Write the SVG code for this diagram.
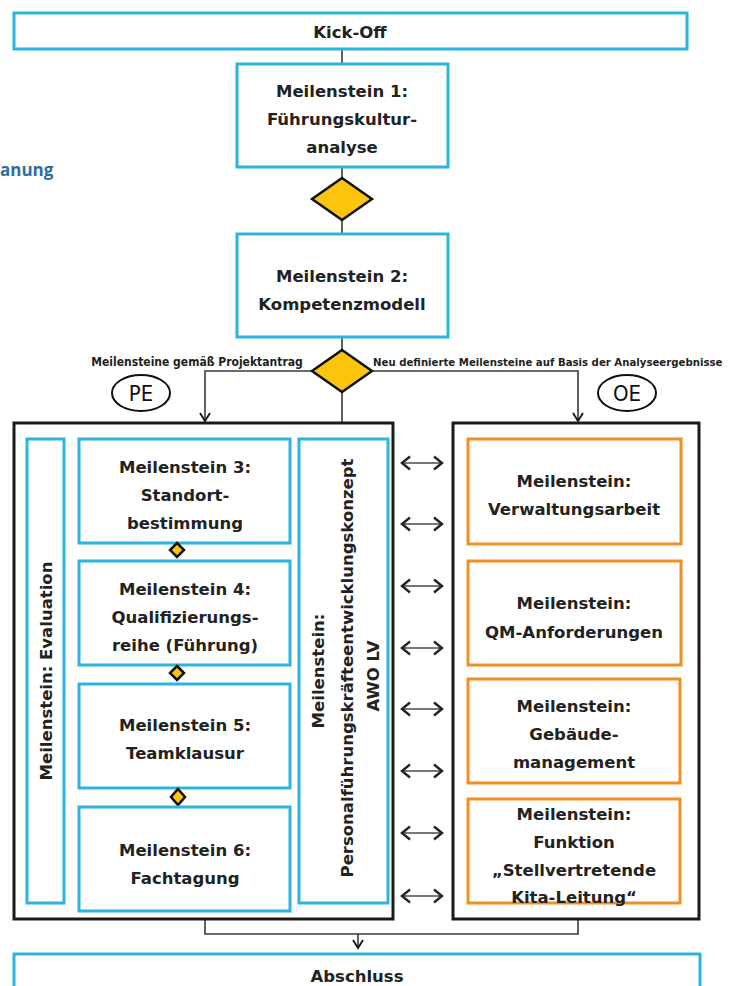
<svg xmlns="http://www.w3.org/2000/svg" width="732" height="986" viewBox="0 0 732 986">
  <defs>
    <style>
      .blue { fill: #ffffff; stroke: #2cb4df; stroke-width: 3; }
      .orange { fill: #ffffff; stroke: #f28f22; stroke-width: 3; }
      .frame { fill: #ffffff; stroke: #1a1a1a; stroke-width: 3; }
      .dia { fill: #fcc40c; stroke: #111111; stroke-width: 2.5; stroke-linejoin: miter; }
      .wire { fill: none; stroke: #3a3a3a; stroke-width: 1.6; }
      .t { font-family: "DejaVu Sans", "Liberation Sans", sans-serif; font-weight: bold; font-size: 16.5px; fill: #222222; text-anchor: middle; }
      .lbl { font-family: "Liberation Sans Narrow", "DejaVu Sans Condensed", sans-serif; font-weight: bold; font-size: 12px; fill: #1e1e1e; text-anchor: middle; }
      .lbl-right { font-size: 11.3px; text-anchor: start; }
      .oval { fill: #ffffff; stroke: #111111; stroke-width: 2; }
      .ovt { font-family: "DejaVu Sans Condensed", sans-serif; font-size: 22px; fill: #111111; text-anchor: middle; }
      .dbl { fill: none; stroke: #222222; stroke-width: 2.4; }
      .shaft { stroke: #777777; stroke-width: 1.8; }
    </style>
    <marker id="head" markerWidth="12" markerHeight="12" refX="10" refY="6" orient="auto" markerUnits="userSpaceOnUse">
      <path d="M2,1 L10,6 L2,11" fill="none" stroke="#111111" stroke-width="1.8"/>
    </marker>
    <g id="twoway">
      <line class="shaft" x1="402" y1="0" x2="442" y2="0"/>
      <polyline class="dbl" points="410,-6.5 402,0 410,6.5"/>
      <polyline class="dbl" points="434,-6.5 442,0 434,6.5"/>
    </g>
  </defs>

  <!-- heading fragment at the left edge -->
  <text x="0" y="176" font-family="Open Sans, sans-serif" font-weight="bold" font-size="17" fill="#2f6ca3">anung</text>

  <!-- connectors -->
  <g id="connectors">
    <line class="wire" x1="342" y1="49" x2="342" y2="64"/>
    <line class="wire" x1="342" y1="167" x2="342" y2="234"/>
    <line class="wire" x1="342" y1="337" x2="342" y2="423"/>
    <polyline class="wire" points="312,371 205,371 205,421" marker-end="url(#head)"/>
    <polyline class="wire" points="372,371 578,371 578,421" marker-end="url(#head)"/>
    <polyline class="wire" points="205,919 205,934 578,934 578,919"/>
    <line class="wire" x1="358" y1="934" x2="358" y2="948" marker-end="url(#head)"/>
    <text class="lbl" x="197" y="366">Meilensteine gemäß Projektantrag</text>
    <text class="lbl lbl-right" x="373" y="366">Neu definierte Meilensteine auf Basis der Analyseergebnisse</text>
    <!-- two-way links between the PE and OE blocks -->
    <g id="links">
      <use href="#twoway" y="463"/>
      <use href="#twoway" y="524"/>
      <use href="#twoway" y="586"/>
      <use href="#twoway" y="648"/>
      <use href="#twoway" y="709"/>
      <use href="#twoway" y="771"/>
      <use href="#twoway" y="833"/>
      <use href="#twoway" y="896"/>
    </g>
  </g>

  <g id="kickoff">
    <rect class="blue" x="14" y="13" width="673" height="36"/>
    <text class="t" x="350" y="38" font-size="15">Kick-Off</text>
  </g>

  <g id="ms1">
    <rect class="blue" x="237" y="64" width="211" height="103"/>
    <text class="t" x="342" y="97">Meilenstein 1:</text>
    <text class="t" x="342" y="125">Führungskultur-</text>
    <text class="t" x="342" y="153">analyse</text>
  </g>

  <g id="gate1">
    <polygon class="dia" points="342,178 372,199 342,220 312,199"/>
  </g>

  <g id="ms2">
    <rect class="blue" x="237" y="234" width="211" height="103"/>
    <text class="t" x="342" y="282">Meilenstein 2:</text>
    <text class="t" x="342" y="310">Kompetenzmodell</text>
  </g>

  <g id="gate2">
    <polygon class="dia" points="342,350 372,371 342,392 312,371"/>
  </g>

  <g id="pe">
    <ellipse class="oval" cx="141" cy="393" rx="29" ry="18"/>
    <text class="ovt" x="141" y="401">PE</text>
  </g>

  <g id="oe">
    <ellipse class="oval" cx="627" cy="393" rx="29" ry="18"/>
    <text class="ovt" x="627" y="401">OE</text>
  </g>

  <!-- PE block -->
  <g id="pe-block">
    <rect class="frame" x="14" y="423" width="379" height="496"/>
  </g>

  <g id="evaluation">
    <rect class="blue" x="27" y="439" width="37" height="464"/>
    <text class="t" transform="translate(52,671) rotate(-90)" x="0" y="0">Meilenstein: Evaluation</text>
  </g>

  <g id="ms3">
    <rect class="blue" x="79" y="439" width="211" height="104"/>
    <text class="t" x="185" y="473">Meilenstein 3:</text>
    <text class="t" x="185" y="501">Standort-</text>
    <text class="t" x="185" y="529">bestimmung</text>
  </g>
  <g id="g3">
    <polygon class="dia" points="177,543 184,550 177,557 170,550" stroke-width="1.8"/>
  </g>

  <g id="ms4">
    <rect class="blue" x="79" y="561" width="211" height="104"/>
    <text class="t" x="185" y="595">Meilenstein 4:</text>
    <text class="t" x="185" y="623">Qualifizierungs-</text>
    <text class="t" x="185" y="651">reihe (Führung)</text>
  </g>
  <g id="g4">
    <polygon class="dia" points="177,666 184,673 177,680 170,673" stroke-width="1.8"/>
  </g>

  <g id="ms5">
    <rect class="blue" x="79" y="684" width="211" height="104"/>
    <text class="t" x="185" y="731">Meilenstein 5:</text>
    <text class="t" x="185" y="759">Teamklausur</text>
  </g>
  <g id="g5">
    <polygon class="dia" points="178,789 185,797 178,805 171,797" stroke-width="1.8"/>
  </g>

  <g id="ms6">
    <rect class="blue" x="79" y="807" width="211" height="104"/>
    <text class="t" x="185" y="856">Meilenstein 6:</text>
    <text class="t" x="185" y="884">Fachtagung</text>
  </g>

  <g id="pfek">
    <rect class="blue" x="299" y="439" width="89" height="464"/>
    <text class="t" transform="translate(324,671) rotate(-90)" x="0" y="0">Meilenstein:</text>
    <text class="t" transform="translate(353,668) rotate(-90)" x="0" y="0">Personalführungskräfteentwicklungskonzept</text>
    <text class="t" transform="translate(379,676) rotate(-90)" x="0" y="0">AWO LV</text>
  </g>

  <!-- OE block -->
  <g id="oe-block">
    <rect class="frame" x="453" y="423" width="246" height="496"/>
  </g>

  <g id="oe1">
    <rect class="orange" x="468" y="439" width="213" height="105"/>
    <text class="t" x="574" y="487">Meilenstein:</text>
    <text class="t" x="574" y="515">Verwaltungsarbeit</text>
  </g>

  <g id="oe2">
    <rect class="orange" x="468" y="561" width="213" height="104"/>
    <text class="t" x="574" y="609">Meilenstein:</text>
    <text class="t" x="574" y="638">QM-Anforderungen</text>
  </g>

  <g id="oe3">
    <rect class="orange" x="468" y="679" width="212" height="104"/>
    <text class="t" x="574" y="712">Meilenstein:</text>
    <text class="t" x="574" y="740">Gebäude-</text>
    <text class="t" x="574" y="768">management</text>
  </g>

  <g id="oe4">
    <rect class="orange" x="468" y="799" width="212" height="104"/>
    <text class="t" x="574" y="820">Meilenstein:</text>
    <text class="t" x="574" y="848">Funktion</text>
    <text class="t" x="574" y="876">„Stellvertretende</text>
    <text class="t" x="574" y="903">Kita-Leitung“</text>
  </g>

  <g id="abschluss">
    <rect class="blue" x="14" y="954" width="686" height="50"/>
    <text class="t" x="357" y="982" font-size="15">Abschluss</text>
  </g>
</svg>
